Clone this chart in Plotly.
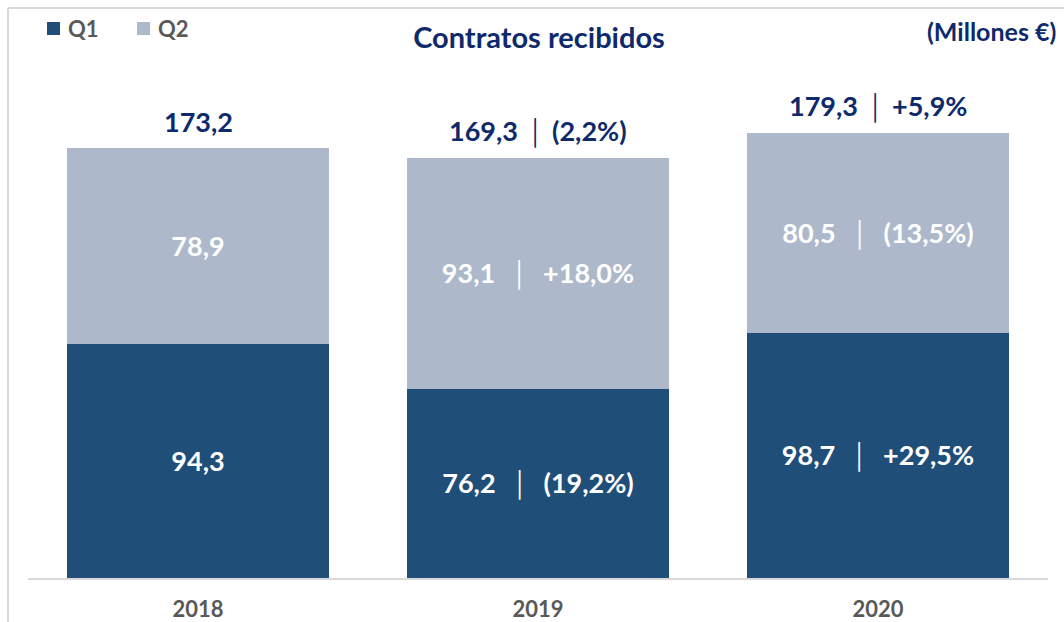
import plotly.graph_objects as go

years = ["2018", "2019", "2020"]
q1 = [94.3, 76.2, 98.7]
q2 = [78.9, 93.1, 80.5]
totals = [173.2, 169.3, 179.3]
q1_labels = ["94,3", "76,2 │ (19,2%)", "98,7 │ +29,5%"]
q2_labels = ["78,9", "93,1 │ +18,0%", "80,5 │ (13,5%)"]
total_labels = ["173,2", "169,3 │ (2,2%)", "179,3 │ +5,9%"]
series_names = ["Q1", "Q2"]

FONT = "Lato"
Q1C = "#1F4E79"
Q2C = "#ADB9CA"
NAVY = "#0E2A6B"
GRAY = "#595959"

# pixel helpers for paper coordinates (plot area: x 28..1048, y 0..578)
def px(x):
    return (x - 28) / 1020

def py(y):
    return 1 - y / 578

def fmt(lbl, gap="  "):
    parts = lbl.split(" │ ")
    if len(parts) == 1:
        return "<b>" + lbl + "</b>"
    return "<b>" + parts[0] + "</b>" + gap + "│" + gap + "<b>" + parts[1] + "</b>"

fig = go.Figure()
for name, vals, labels, col in [(series_names[0], q1, q1_labels, Q1C),
                                (series_names[1], q2, q2_labels, Q2C)]:
    fig.add_trace(go.Bar(
        x=years, y=vals, name=name, marker=dict(color=col, line=dict(width=0)),
        text=[fmt(t) for t in labels], textposition="inside", insidetextanchor="middle",
        textangle=0, textfont=dict(family=FONT, size=27, color="white"),
        showlegend=False,
    ))

for i, (tot, lbl) in enumerate(zip(totals, total_labels)):
    fig.add_annotation(x=i, y=tot, xref="x", yref="y", text=fmt(lbl, gap=" "),
                       showarrow=False, yanchor="bottom", yshift=8,
                       font=dict(family=FONT, size=27, color=NAVY))

fig.add_annotation(xref="paper", yref="paper", x=px(1058), y=py(31),
                   xanchor="right", yanchor="middle", text="<b>(Millones €)</b>",
                   showarrow=False, font=dict(family=FONT, size=25, color=NAVY))

# legend drawn manually
for name, col, sx in [(series_names[0], Q1C, 47), (series_names[1], Q2C, 137)]:
    fig.add_shape(type="rect", xref="paper", yref="paper", x0=px(sx), x1=px(sx + 13),
                  y0=py(35), y1=py(22), fillcolor=col, line=dict(width=0))
    fig.add_annotation(xref="paper", yref="paper", x=px(sx + 19), y=py(29),
                       xanchor="left", yanchor="middle", text="<b>" + name + "</b>",
                       showarrow=False, font=dict(family=FONT, size=22, color=GRAY))

# frame lines
fig.add_shape(type="line", xref="paper", yref="paper", x0=px(8), x1=px(1070), y0=py(8),
              y1=py(8), line=dict(color="#D9D9D9", width=2))
fig.add_shape(type="line", xref="paper", yref="paper", x0=px(8), x1=px(8), y0=py(8),
              y1=py(630), line=dict(color="#D9D9D9", width=2))

fig.update_layout(
    width=1064, height=622,
    margin=dict(l=28, r=16, t=0, b=44, autoexpand=False),
    barmode="stack", bargap=0.23,
    paper_bgcolor="white", plot_bgcolor="white",
    showlegend=False,
    title=dict(text="<b>Contratos recibidos</b>", x=539 / 1064, xanchor="center",
               y=1 - 38 / 622, yanchor="middle",
               font=dict(family=FONT, size=29, color=NAVY)),
    xaxis=dict(type="category", range=[-0.5, 2.5], showline=True, linecolor="#D9D9D9",
               linewidth=2, showgrid=False, zeroline=False, ticks="", ticklabelstandoff=11,
               automargin=False,
               tickfont=dict(family=FONT, size=22, color=GRAY, weight="bold")),
    yaxis=dict(range=[0, 232.8], showticklabels=False, showline=False, ticks="",
               showgrid=False, zeroline=False, automargin=False),
    uniformtext=dict(mode=False),
)

fig.write_html("out.html", config={"displayModeBar": False},
               post_script="document.body.style.margin='0';")
